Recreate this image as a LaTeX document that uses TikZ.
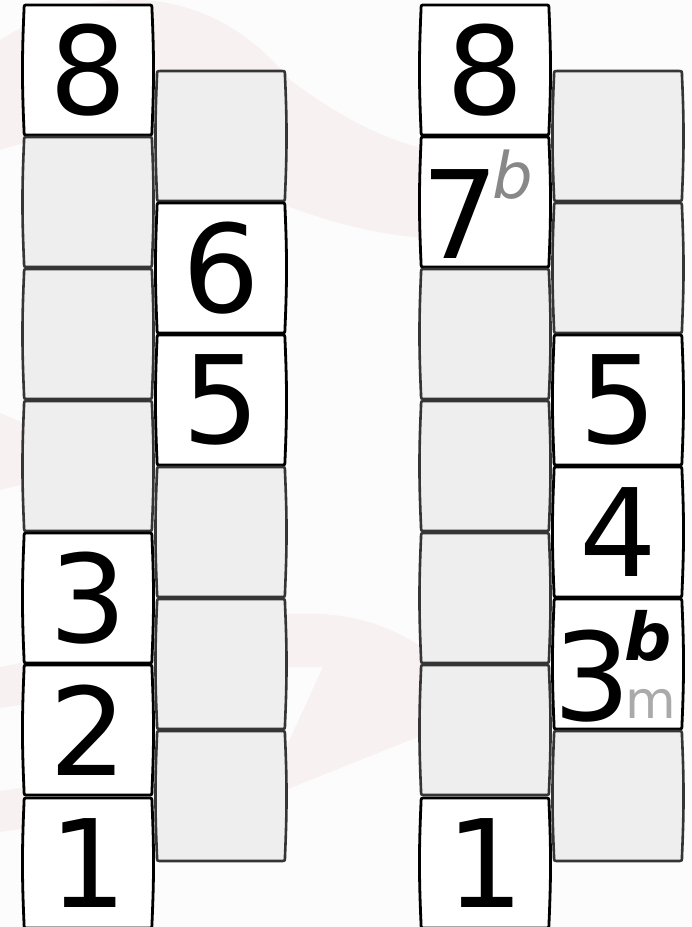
\documentclass[tikz,border=0pt]{standalone}
\usepackage{fontspec}
\setmainfont{DejaVu Sans}
\definecolor{bgc}{HTML}{FCFCFC}
\definecolor{wmark}{HTML}{F7F1F1}
\definecolor{cellgray}{HTML}{EEEEEE}
\definecolor{cellline}{HTML}{353535}
\definecolor{supgray}{HTML}{888888}
\definecolor{subgray}{HTML}{AAAAAA}
\tikzset{
  cellnode/.style={minimum width=130pt, minimum height=130pt, inner sep=0pt, outer sep=0pt,
    font=\fontsize{122}{122}\selectfont},
  whitecell/.style={draw=black, fill=white, line width=2.8pt},
  graycell/.style={draw=cellline, fill=cellgray, line width=2.6pt},
  bigdigit/.style={inner sep=0pt, anchor=base, font=\fontsize{122}{122}\selectfont},
}
\newcommand\barrel[2]{%
  \draw[#2] ([xshift=5pt]#1.north west) -- ([xshift=-5pt]#1.north east)
    .. controls ([xshift=-1pt]#1.north east) .. ([xshift=-1pt,yshift=-5pt]#1.north east)
    to[bend left=2.5] ([xshift=-1pt,yshift=5pt]#1.south east)
    .. controls ([xshift=-1pt]#1.south east) .. ([xshift=-5pt]#1.south east)
    -- ([xshift=5pt]#1.south west)
    .. controls ([xshift=1pt]#1.south west) .. ([xshift=1pt,yshift=5pt]#1.south west)
    to[bend left=2.5] ([xshift=1pt,yshift=-5pt]#1.north west)
    .. controls ([xshift=1pt]#1.north west) .. cycle;}
\newcommand\cellat[5]{% name, x, y, style, text
  \node[cellnode] (#1) at (#2,#3) {};
  \barrel{#1}{#4}
  \node[cellnode] (#1t) at (#1.center) {#5};}
\begin{document}
\begin{tikzpicture}[x=1pt,y=-1pt]
\useasboundingbox (0,0) rectangle (692,927);
\fill[bgc] (0,0) rectangle (692,927);
% faint watermark
\fill[wmark] (0,40) .. controls (80,-10) and (200,-30) .. (290,80)
  .. controls (330,110) and (380,140) .. (430,150) -- (430,238)
  .. controls (380,236) and (330,222) .. (290,207)
  .. controls (230,150) and (120,110) .. (0,150) -- cycle;
\fill[wmark] (0,667) -- (285,614) .. controls (360,610) and (400,630) .. (440,660)
  -- (440,728) -- (285,790) -- (0,832) -- (0,791) -- (285,750) -- (323,667)
  -- (285,667) -- (0,708) -- cycle;
\fill[wmark] (0,413) -- (40,430) -- (40,480) -- (0,490) -- cycle;
% left pair, column A
\cellat{a8}{88}{70}{whitecell}{8}
\cellat{a7}{88}{202}{graycell}{}
\cellat{a6}{88}{334}{graycell}{}
\cellat{a5}{88}{466}{graycell}{}
\cellat{a3}{88}{598}{whitecell}{3}
\cellat{a2}{88}{730}{whitecell}{2}
\cellat{a1}{88}{863}{whitecell}{1}
% left pair, column B
\cellat{b1}{221}{136}{graycell}{}
\cellat{b2}{221}{268}{whitecell}{6}
\cellat{b3}{221}{400}{whitecell}{5}
\cellat{b4}{221}{532}{graycell}{}
\cellat{b5}{221}{664}{graycell}{}
\cellat{b6}{221}{796}{graycell}{}
% right pair, column C
\cellat{c8}{485}{70}{whitecell}{8}
\cellat{c7}{485}{202}{whitecell}{}
\cellat{c6}{485}{334}{graycell}{}
\cellat{c5}{485}{466}{graycell}{}
\cellat{c4}{485}{598}{graycell}{}
\cellat{c3}{485}{730}{graycell}{}
\cellat{c1}{485}{863}{whitecell}{1}
% right pair, column D
\cellat{d1}{618}{136}{graycell}{}
\cellat{d2}{618}{268}{graycell}{}
\cellat{d3}{618}{400}{whitecell}{5}
\cellat{d4}{618}{532}{whitecell}{4}
\cellat{d5}{618}{664}{whitecell}{}
\cellat{d6}{618}{796}{graycell}{}
% 7 with flat superscript
\node[bigdigit] (sev) at (460,258) {7};
\node[inner sep=0pt, anchor=base, text=supgray, font=\fontsize{64}{64}\selectfont\itshape] (sevb) at (513,198) {b};
% 3 with flat and minor
\node[bigdigit] (thr) at (592,720) {3};
\node[inner sep=0pt, anchor=base, text=black, font=\fontsize{66}{66}\selectfont\bfseries\itshape] (thrb) at (648,660) {b};
\node[inner sep=0pt, anchor=base, text=subgray, font=\fontsize{52}{52}\selectfont] (thrm) at (651,718) {m};
\end{tikzpicture}
\end{document}
